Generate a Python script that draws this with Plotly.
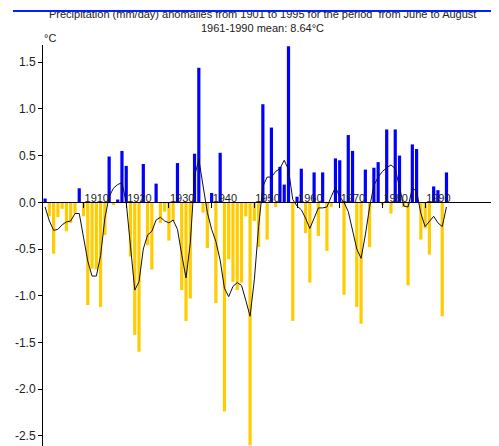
import plotly.graph_objects as go

# ---------------- data ----------------
years = list(range(1901, 1996))

anomalies = [
    0.04, -0.15, -0.55, -0.16, -0.07, -0.31, -0.22, -0.12, 0.15, -0.15,   # 1901-1910
    -1.10, -0.71, -0.72, -1.12, -0.35, 0.49, -0.03, 0.03, 0.55, 0.39,     # 1911-1920
    -0.58, -1.42, -1.60, 0.41, -0.46, -0.72, 0.20, -0.22, -0.10, -0.41,   # 1921-1930
    -0.20, 0.42, -0.94, -1.27, -1.03, 0.52, 1.44, -0.11, -0.49, 0.10,     # 1931-1940
    -1.08, 0.53, -2.24, -0.61, -0.85, -0.94, -0.86, -0.15, -2.60, -0.20,  # 1941-1950
    -0.48, 1.05, -0.40, 0.80, -0.05, 0.38, 0.19, 1.67, -1.27, 0.06,       # 1951-1960
    0.36, -0.33, -0.86, 0.32, -0.36, 0.32, -0.52, -0.05, 0.47, 0.45,      # 1961-1970
    -0.99, 0.72, 0.55, -1.12, -1.30, 0.35, -0.48, 0.37, 0.43, -0.03,      # 1971-1980
    0.78, -0.12, 0.78, 0.50, -0.05, -0.89, 0.62, 0.57, -0.40, -0.28,      # 1981-1990
    -0.56, 0.17, 0.13, -1.22, 0.32,                                       # 1991-1995
]

smoothed = [
    -0.05, -0.20, -0.30, -0.29, -0.24, -0.21, -0.20, -0.12, -0.12, -0.36,
    -0.63, -0.79, -0.79, -0.57, -0.17, 0.06, 0.15, 0.19, 0.21, 0.00,
    -0.45, -0.94, -0.85, -0.50, -0.35, -0.31, -0.19, -0.16, -0.20, -0.22,
    -0.19, -0.29, -0.56, -0.81, -0.44, 0.28, 0.46, 0.17, -0.11, -0.29,
    -0.42, -0.62, -0.92, -1.01, -0.90, -0.86, -0.89, -1.05, -1.22, -0.83,
    -0.26, 0.17, 0.27, 0.27, 0.33, 0.36, 0.45, 0.35, 0.03, -0.04,
    -0.08, -0.17, -0.28, -0.17, -0.06, -0.06, -0.05, 0.06, 0.16, 0.06,
    0.00, -0.10, -0.30, -0.50, -0.60, -0.35, -0.05, 0.18, 0.27, 0.33,
    0.37, 0.40, 0.36, 0.15, -0.04, -0.05, 0.15, 0.12, -0.12, -0.26,
    -0.20, -0.15, -0.22, -0.26, -0.05,
]

y_tick_vals = [1.5, 1.0, 0.5, 0.0, -0.5, -1.0, -1.5, -2.0, -2.5]
y_tick_text = ["1.5", "1.0", "0.5", "0.0", "-0.5", "-1.0", "-1.5", "-2.0", "-2.5"]
x_tick_vals = [1910, 1920, 1930, 1940, 1950, 1960, 1970, 1980, 1990]
x_tick_text = ["1910", "1920", "1930", "1940", "1950", "1960", "1970", "1980", "1990"]

title_text = "Precipitation (mm/day) anomalies from 1901 to 1995 for the period  from June to August"
subtitle_text = "1961-1990 mean: 8.64°C"
unit_text = "°C"

# ---------------- layout geometry ----------------
OFF = 8                      # page body margin in the browser
W, H = 499 - OFF, 446 - OFF  # figure size so it fits the window
ML, MR, MT, MB = 35, 2, 37, 0
PW = W - ML - MR
PH = H - MT - MB
YMIN, YMAX = -2.609, 1.684
XMIN, XMAX = 1900.51, 2006.83
FONT = "Liberation Sans, Arial, sans-serif"


def px(xp):
    """page pixel x -> paper x"""
    return (xp - OFF - ML) / PW


def py(yp):
    """page pixel y -> paper y"""
    return (H - MB - (yp - OFF)) / PH


BLUE = "#0000ff"
GOLD = "#ffcc00"
colors = [BLUE if v > 0 else GOLD for v in anomalies]

fig = go.Figure()
fig.add_trace(go.Bar(x=years, y=anomalies, marker_color=colors,
                     marker_line_width=0, width=0.75, hoverinfo="x+y"))
fig.add_trace(go.Scatter(x=years, y=smoothed, mode="lines",
                         line=dict(color="#111111", width=1), hoverinfo="skip"))

zero_pos = (0 - YMIN) / (YMAX - YMIN)

fig.update_layout(
    width=W, height=H,
    margin=dict(l=ML, r=MR, t=MT, b=MB, pad=0),
    paper_bgcolor="white", plot_bgcolor="white",
    showlegend=False,
    font=dict(family=FONT, size=11, color="#222222"),
    xaxis=dict(
        range=[XMIN, XMAX], anchor="free", position=zero_pos, side="top",
        showline=True, linecolor="black", linewidth=1,
        ticks="inside", ticklen=5, tickcolor="black", tickwidth=1,
        tickvals=x_tick_vals, ticktext=x_tick_text,
        ticklabelposition="outside right", ticklabelstandoff=-4,
        tickfont=dict(family=FONT, size=11, color="#222222"),
        showgrid=False, zeroline=False,
    ),
    yaxis=dict(
        range=[YMIN, YMAX], showline=True, linecolor="black", linewidth=1,
        ticks="outside", ticklen=4, tickcolor="black",
        tickvals=y_tick_vals, ticktext=y_tick_text,
        tickfont=dict(family=FONT, size=12, color="#222222"),
        showgrid=False, zeroline=False,
    ),
    bargap=0.25,
)

annotations = [
    dict(text=title_text, x=px(262), y=py(13.5), xref="paper", yref="paper",
         xanchor="center", yanchor="middle", showarrow=False,
         font=dict(family=FONT, size=11, color="#222222")),
    dict(text=subtitle_text, x=px(262), y=py(27.5), xref="paper", yref="paper",
         xanchor="center", yanchor="middle", showarrow=False,
         font=dict(family=FONT, size=11, color="#222222")),
    dict(text=unit_text, x=px(42), y=py(38), xref="paper", yref="paper",
         xanchor="left", yanchor="middle", showarrow=False,
         font=dict(family=FONT, size=11, color="#222222")),
    # white band clipping the top of the title
    dict(text=" ", x=px(249.5), y=py(5), xref="paper", yref="paper",
         xanchor="center", yanchor="middle", showarrow=False,
         width=499, height=10, bgcolor="white", borderpad=0, borderwidth=0),
    # blue strip across the title
    dict(text=" ", x=px(256), y=py(11.3), xref="paper", yref="paper",
         xanchor="center", yanchor="middle", showarrow=False,
         width=486, height=2.4, bgcolor="#0022ff", borderpad=0, borderwidth=0,
         font=dict(size=1)),
]
fig.update_layout(annotations=annotations)

fig.write_html("out.html")
